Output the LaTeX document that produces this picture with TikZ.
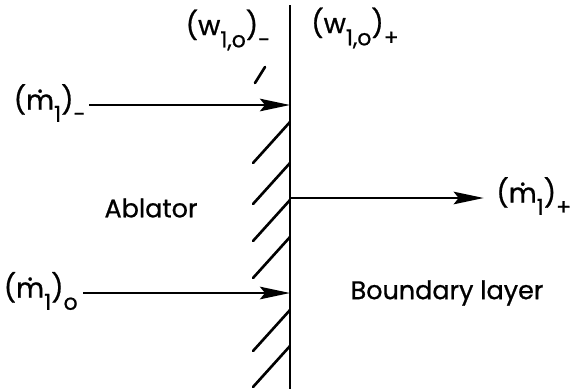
\documentclass[tikz,border=0pt]{standalone}
\usepackage{fontspec}
\setmainfont{Poppins}[UprightFeatures={FakeBold=0.8}]
\usetikzlibrary{arrows.meta}

% m with a dot, and lowered subscripts as in the lettering
\newcommand{\mdot}{\ooalign{m\cr\hfil\raisebox{0.62em}{.}\hfil\cr}}
\newcommand{\sub}[1]{\raisebox{-0.45em}{\fontsize{12.5}{13}\selectfont #1}}

\tikzset{
  lbl/.style={inner sep=0pt, font=\fontsize{15.5}{18}\selectfont},
  word/.style={inner sep=0pt, font=\fontsize{14.5}{17}\selectfont},
  flow/.style={line width=1.5pt, -{Stealth[length=0.6cm,width=0.25cm,inset=0.1cm]}},
  wall/.style={line width=1.6pt},
  hatch/.style={line width=1.5pt, line cap=round}
}

\begin{document}
\begin{tikzpicture}[x=0.02cm, y=-0.02cm]
    \useasboundingbox (0,0) rectangle (570,389);

    % interface
    \coordinate (wt) at (290,5);
    \coordinate (wb) at (290,389);
    \draw[wall] (wt) -- (wb);
    \draw[hatch] (265,67) -- (255,83);
    \foreach \y in {122,163,200,237,310,346}
        \draw[hatch] (290,\y) -- ++(-37,41);

    % labels
    \node[lbl, anchor=east] (mminus) at (86,103) {(\mdot\sub{1})\sub{-}};
    \node[lbl, anchor=east] (mo) at (78,291) {(\mdot\sub{1})\sub{o}};
    \node[lbl, anchor=west] (mplus) at (496,196) {(\mdot\sub{1})\sub{+}};
    \node[lbl] (wminus) at (228,30) {(w\sub{1,o})\sub{-}};
    \node[lbl] (wplus) at (355,28) {(w\sub{1,o})\sub{+}};
    \node[word] (abl) at (151,208) {Ablator};
    \node[word] (bl) at (447,293) {Boundary layer};

    \coordinate (pa) at (290,105);
    \coordinate (pb) at (290,198);
    \coordinate (pc) at (290,293);

    \draw[flow] (mminus.east |- pa) ++(3,0) -- (pa);
    \draw[flow] (mo.east |- pc) ++(5,0) -- (pc);
    \draw[flow] (pb) -- ([xshift=-7]mplus.west |- pb);
\end{tikzpicture}
\end{document}
